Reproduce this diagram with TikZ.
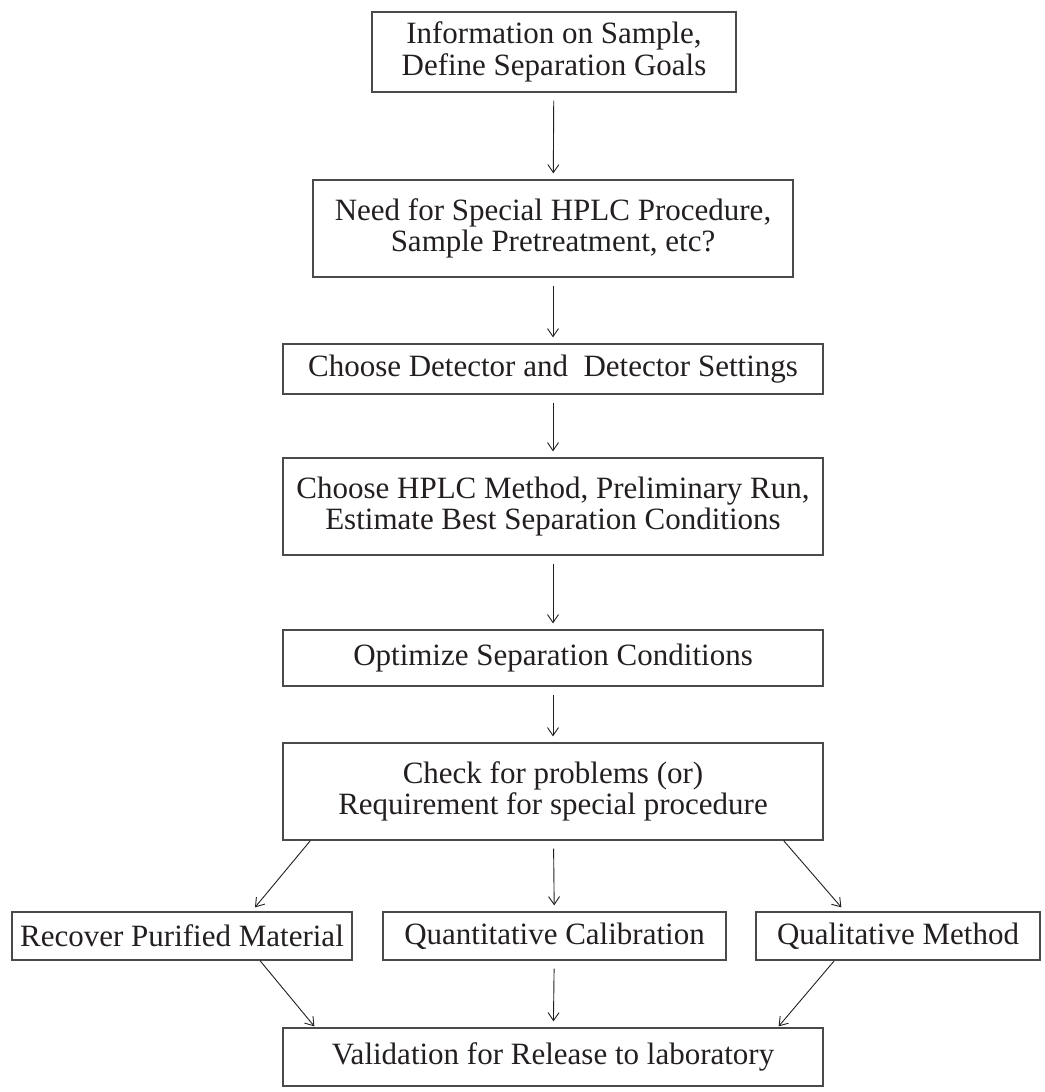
\documentclass[tikz,border=0pt]{standalone}
\usepackage{fontspec}
\setmainfont{Liberation Serif}
\usetikzlibrary{arrows.meta,calc}
\definecolor{ink}{HTML}{231F20}
\definecolor{edge}{HTML}{4A4A4A}
\tikzset{
  box/.style={draw=edge, line width=1.3pt, text=ink, align=center, inner sep=0pt,
    font=\fontsize{31}{31.5}\selectfont},
  flow/.style={draw=ink, line width=0.9pt, -{Straight Barb[length=8pt,width=11pt]}},
  gap/.style={shorten <=8pt, shorten >=6pt}
}
\begin{document}
\begin{tikzpicture}[x=1pt,y=-1pt]
\useasboundingbox (0,0) rectangle (1044,1092);

\node[box, minimum width=364, minimum height=80](info) at (554,52) {Information on Sample,\\Define Separation Goals};

\node[box, minimum width=480, minimum height=97](need) at (553,228.5) {Need for Special HPLC Procedure,\\Sample Pretreatment, etc?};

\node[box, minimum width=540, minimum height=50](det) at (553,369) {Choose Detector and\ \ Detector Settings};

\node[box, minimum width=540, minimum height=97](meth) at (553,506.5) {Choose HPLC Method, Preliminary Run,\\Estimate Best Separation Conditions};

\node[box, minimum width=540, minimum height=56](opt) at (553,658) {Optimize Separation Conditions};

\node[box, minimum width=540, minimum height=97](chk) at (553,791.5) {Check for problems (or)\\Requirement for special procedure};

\node[box, minimum width=340, minimum height=48](rec) at (182,936) {Recover Purified Material};

\node[box, minimum width=343, minimum height=48](quant) at (554.5,936) {Quantitative Calibration};

\node[box, minimum width=284, minimum height=48](qual) at (898,936) {Qualitative Method};

\node[box, minimum width=540, minimum height=58](val) at (553,1057) {Validation for Release to laboratory};

\foreach \from/\to in {info/need, need/det, det/meth, meth/opt, opt/chk, chk/quant, quant/val}
    \draw[flow, gap] (\from) -- (\to);

\draw[flow] ($(chk.south west)+(28,0)$) -- ($(rec.north)+(73,-4)$);
\draw[flow] ($(chk.south east)+(-40,0)$) -- ($(qual.north west)+(86,-4)$);
\draw[flow] ($(rec.south)+(78,0)$) -- ($(val.north west)+(32,-1)$);
\draw[flow] ($(qual.south west)+(79,0)$) -- ($(val.north east)+(-45,-1)$);

\end{tikzpicture}
\end{document}
